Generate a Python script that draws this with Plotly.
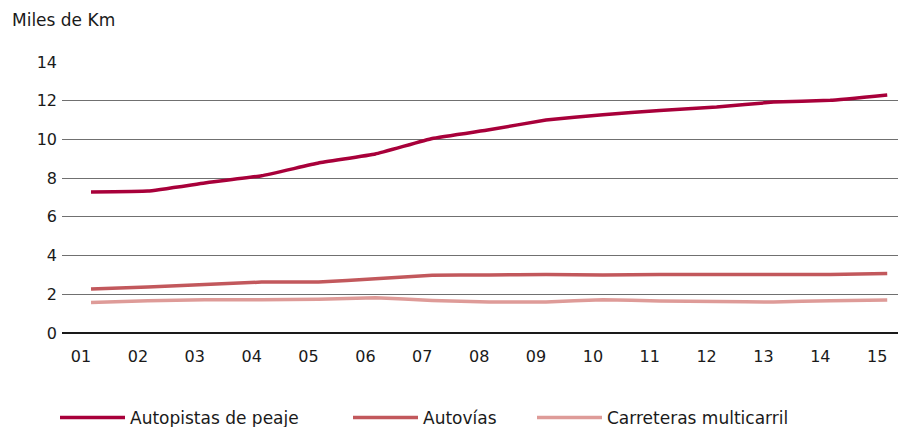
import plotly.graph_objects as go

years = [1, 2, 3, 4, 5, 6, 7, 8, 9, 10, 11, 12, 13, 14, 15]
year_labels = ["01", "02", "03", "04", "05", "06", "07", "08", "09", "10", "11", "12", "13", "14", "15"]

autopistas = [7.28, 7.33, 7.75, 8.12, 8.78, 9.25, 10.05, 10.5, 11.0, 11.28, 11.5, 11.67, 11.93, 12.02, 12.3]
autovias = [2.27, 2.38, 2.5, 2.63, 2.64, 2.8, 2.98, 3.0, 3.02, 3.0, 3.02, 3.02, 3.02, 3.02, 3.07]
carreteras = [1.58, 1.67, 1.72, 1.72, 1.74, 1.82, 1.68, 1.6, 1.6, 1.72, 1.65, 1.63, 1.6, 1.67, 1.7]

y_ticks = [0, 2, 4, 6, 8, 10, 12, 14]

series_names = ["Autopistas de peaje", "Autovías", "Carreteras multicarril"]
series_values = [autopistas, autovias, carreteras]
series_colors = ["#A8003A", "#C2585C", "#DE9B98"]
legend_ids = ["legend", "legend2", "legend3"]
legend_x_px = [52, 345, 529]   # left edge of each legend entry in figure pixels

# The page body has an 8px margin, so the figure is 8px smaller than the window
W, H = 898, 419
FONT = "DejaVu Sans"
TXT = "#1a1a1a"

fig = go.Figure()
for name, vals, color, lid in zip(series_names, series_values, series_colors, legend_ids):
    fig.add_trace(go.Scatter(
        x=years, y=vals, name=name, mode="lines", legend=lid,
        line=dict(color=color, width=3.5, shape="spline", smoothing=0.25),
    ))

legend_common = dict(orientation="h", xref="container", yref="container",
                     xanchor="left", y=1 - 410 / H, yanchor="middle",
                     itemwidth=65, font=dict(family=FONT, size=17, color=TXT),
                     bgcolor="rgba(0,0,0,0)")
legends = {}
for lid, xpx in zip(legend_ids, legend_x_px):
    legends[lid] = dict(legend_common, x=(xpx - 5) / W)

fig.update_layout(
    width=W, height=H,
    margin=dict(l=54, r=0, t=54, b=94, autoexpand=False),
    paper_bgcolor="white", plot_bgcolor="white",
    font=dict(family=FONT, size=16, color=TXT),
    title=dict(text="Miles de Km", x=4 / W, xanchor="left", xref="container",
               y=1 - 12 / H, yanchor="middle", yref="container",
               font=dict(family=FONT, size=17, color=TXT)),
    showlegend=True,
    xaxis=dict(range=[0.49, 15.33], tickvals=years, ticktext=year_labels,
               showgrid=False, zeroline=False, showline=False, ticks="",
               ticklabelshift=-10, ticklabelstandoff=12,
               tickfont=dict(family=FONT, size=16, color=TXT)),
    yaxis=dict(range=[0, 14], tickvals=y_ticks, showgrid=True, gridcolor="#707070",
               gridwidth=1, zeroline=True, zerolinecolor="#1a1a1a", zerolinewidth=1.5,
               showline=False, ticks="", ticklabelstandoff=4,
               tickfont=dict(family=FONT, size=16, color=TXT)),
    **legends,
)

fig.write_html("out.html")
